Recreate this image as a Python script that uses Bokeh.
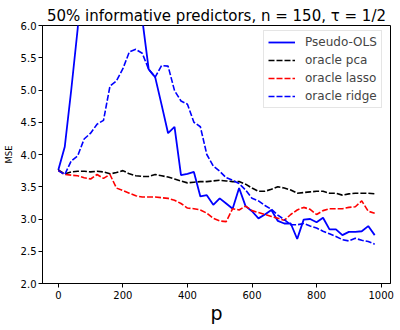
from bokeh.plotting import figure
from bokeh.models import FixedTicker, PrintfTickFormatter, Legend, LegendItem
from bokeh.embed import file_html
from bokeh.resources import INLINE

p_values = [0, 20, 40, 60, 80, 100, 120, 140, 160, 180,
            200, 220, 240, 260, 280, 300, 320, 340, 360, 380,
            400, 420, 440, 460, 480, 500, 520, 540, 560, 580,
            600, 620, 640, 660, 680, 700, 720, 740, 760, 780,
            800, 820, 840, 860, 880, 900, 920, 940, 960, 980]

pseudo_ols = [3.76, 4.12, 5.00, 5.95, 7.3, 8.6, 9.5, 10.2, 10.6, 10.4,
              9.9, 9.1, 8.0, 6.1, 5.32, 5.20, 4.77, 4.33, 4.43, 3.68,
              3.70, 3.73, 3.35, 3.37, 3.22, 3.32, 3.24, 3.16, 3.48, 3.20,
              3.12, 3.01, 3.07, 3.14, 2.97, 2.93, 2.93, 2.69, 2.99, 3.00,
              2.95, 3.02, 2.84, 2.84, 2.75, 2.80, 2.80, 2.81, 2.89, 2.75]

oracle_pca = [3.76, 3.70, 3.73, 3.74, 3.74, 3.73, 3.74, 3.73, 3.70, 3.72,
              3.75, 3.70, 3.67, 3.66, 3.66, 3.69, 3.67, 3.65, 3.62, 3.59,
              3.56, 3.57, 3.58, 3.58, 3.59, 3.60, 3.59, 3.58, 3.58, 3.54,
              3.48, 3.43, 3.43, 3.46, 3.50, 3.48, 3.45, 3.40, 3.41, 3.42,
              3.43, 3.43, 3.40, 3.40, 3.37, 3.39, 3.40, 3.40, 3.40, 3.39]

oracle_lasso = [3.75, 3.69, 3.68, 3.67, 3.64, 3.62, 3.69, 3.63, 3.69, 3.48,
                3.44, 3.40, 3.36, 3.34, 3.34, 3.34, 3.33, 3.32, 3.29, 3.24,
                3.17, 3.16, 3.14, 3.09, 3.01, 2.97, 2.96, 3.16, 3.14, 3.20,
                3.13, 3.10, 3.07, 3.04, 3.01, 2.98, 3.07, 3.14, 3.18, 3.15,
                3.07, 3.13, 3.16, 3.16, 3.16, 3.18, 3.19, 3.28, 3.12, 3.09]

oracle_ridge = [3.75, 3.69, 3.90, 3.98, 4.24, 4.33, 4.47, 4.53, 5.06, 5.14,
                5.33, 5.59, 5.63, 5.57, 5.32, 5.20, 5.38, 5.37, 4.99, 4.83,
                4.78, 4.50, 4.43, 4.00, 3.82, 3.74, 3.64, 3.60, 3.55, 3.45,
                3.32, 3.28, 3.21, 3.15, 3.06, 2.99, 2.91, 2.91, 2.93, 2.89,
                2.86, 2.81, 2.77, 2.73, 2.68, 2.66, 2.70, 2.67, 2.65, 2.61]

x_ticks = [0, 200, 400, 600, 800, 1000]
y_ticks = [2.0, 2.5, 3.0, 3.5, 4.0, 4.5, 5.0, 5.5, 6.0]
title_text = "50% informative predictors, n = 150, τ = 1/2"
x_label = "p"
y_label = "MSE"

FONT = "DejaVu Sans"

p = figure(width=400, height=330, x_range=(-49, 1029), y_range=(2, 6),
           output_backend="svg", toolbar_location=None, title=title_text)
p.min_border_left = 41
p.min_border_right = 10
p.min_border_top = 25
p.min_border_bottom = 47

p.title.text_font = FONT
p.title.text_font_size = "15px"
p.title.text_font_style = "normal"
p.title.text_color = "black"
p.title.align = "center"
p.title.standoff = 1

p.xgrid.visible = False
p.ygrid.visible = False
p.outline_line_color = "black"
p.outline_line_alpha = 1
p.outline_line_width = 1
p.background_fill_color = "white"
p.border_fill_color = "white"

for ax in (p.xaxis[0], p.yaxis[0]):
    ax.major_tick_in = 0
    ax.major_tick_out = 4
    ax.minor_tick_in = 0
    ax.minor_tick_out = 0
    ax.major_label_text_font = FONT
    ax.major_label_text_font_size = "10px"
    ax.major_label_text_color = "black"
    ax.axis_line_color = "black"
    ax.major_tick_line_color = "black"
    ax.axis_label_text_font = FONT
    ax.axis_label_text_font_style = "normal"
    ax.axis_label_text_color = "black"

p.xaxis.ticker = FixedTicker(ticks=x_ticks)
p.yaxis.ticker = FixedTicker(ticks=y_ticks)
p.yaxis.formatter = PrintfTickFormatter(format="%.1f")
p.xaxis.major_label_standoff = 3
p.yaxis.major_label_standoff = 2
p.xaxis.axis_label = x_label
p.xaxis.axis_label_text_font_size = "19px"
p.xaxis.axis_label_standoff = 0
p.yaxis.axis_label = y_label
p.yaxis.axis_label_text_font_size = "8.5px"
p.yaxis.axis_label_standoff = 4

r_ols = p.line(p_values, pseudo_ols, line_color="blue", line_width=1.8)
r_pca = p.line(p_values, oracle_pca, line_color="black", line_width=1.6, line_dash="6 2")
r_lasso = p.line(p_values, oracle_lasso, line_color="red", line_width=1.6, line_dash="6 2")
r_ridge = p.line(p_values, oracle_ridge, line_color="blue", line_width=1.6, line_dash="6 2")

legend = Legend(items=[
    LegendItem(label="Pseudo-OLS", renderers=[r_ols]),
    LegendItem(label="oracle pca", renderers=[r_pca]),
    LegendItem(label="oracle lasso", renderers=[r_lasso]),
    LegendItem(label="oracle ridge", renderers=[r_ridge]),
], location=(221, 175))
legend.label_text_font = FONT
legend.label_text_font_size = "12px"
legend.label_standoff = 10
legend.glyph_width = 27
legend.glyph_height = 14
legend.label_height = 14
legend.spacing = 4
legend.padding = 4
legend.margin = 0
legend.border_line_color = "#cccccc"
legend.border_line_width = 1
legend.background_fill_alpha = 0.8
p.add_layout(legend, "center")

open("out.html", "w").write(file_html(p, INLINE))
